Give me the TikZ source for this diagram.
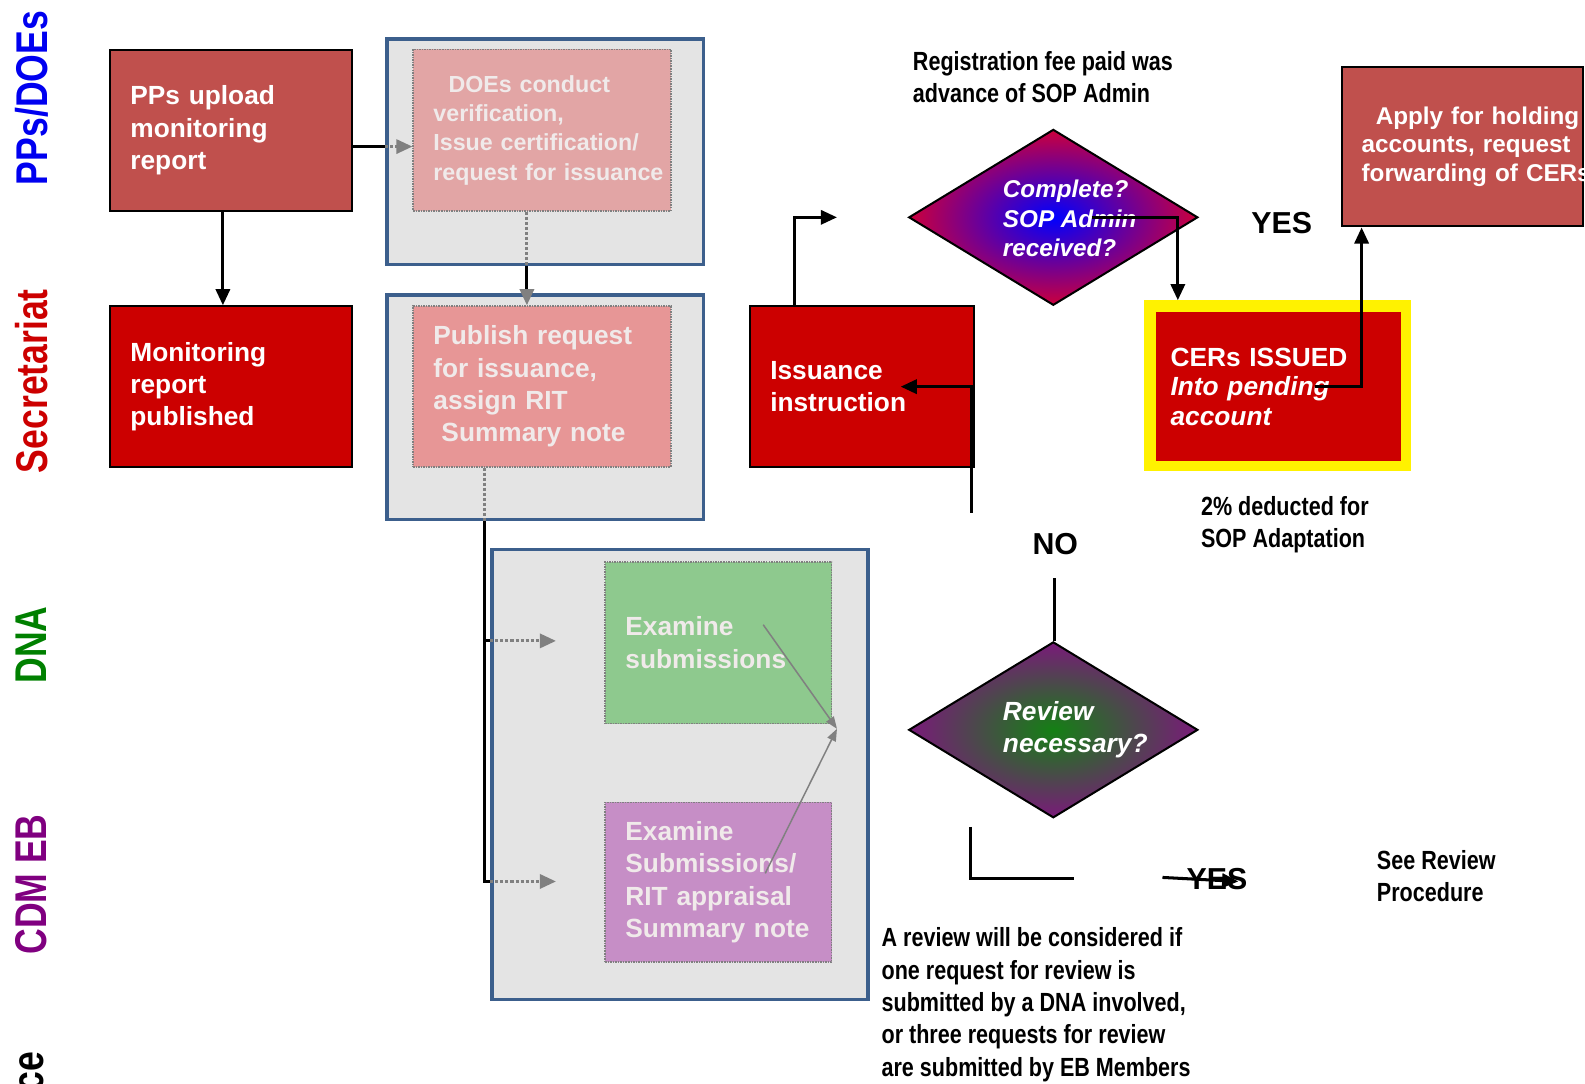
\documentclass[tikz,border=0pt]{standalone}
\usepackage{fontspec}
\setmainfont{Liberation Sans}
\usetikzlibrary{shapes.geometric,arrows.meta}

\definecolor{boxred}{RGB}{192,80,77}
\definecolor{deepred}{RGB}{204,0,0}
\definecolor{framegrey}{RGB}{228,228,228}
\definecolor{frameblue}{RGB}{60,95,140}
\definecolor{fadepink}{RGB}{226,165,165}
\definecolor{fadered}{RGB}{231,150,150}
\definecolor{fadegreen}{RGB}{142,201,142}
\definecolor{fadepurple}{RGB}{198,142,198}
\definecolor{fadetext}{RGB}{240,234,234}
\definecolor{laneblue}{RGB}{0,0,240}
\definecolor{lanered}{RGB}{204,0,0}
\definecolor{lanegreen}{RGB}{0,128,0}
\definecolor{lanepurple}{RGB}{128,0,128}

\tikzset{
  lane/.style={rotate=90, xscale=0.8, inner sep=0pt, font=\bfseries\fontsize{44}{44}\selectfont},
  flowbox/.style={draw=black, line width=2pt, anchor=north west, align=left, inner xsep=20pt,
    text=white, font=\bfseries\fontsize{26}{32}\selectfont},
  framebox/.style={draw=frameblue, fill=framegrey, line width=3.5pt, anchor=north west},
  fadebox/.style={draw=gray, densely dotted, line width=1.5pt, anchor=north west, align=left,
    inner xsep=20pt, text=fadetext, font=\bfseries\fontsize{26}{32}\selectfont},
  decision/.style={diamond, draw=black, line width=2pt, minimum width=286pt, minimum height=174pt, inner sep=0pt},
  asktext/.style={anchor=west, align=left, inner sep=0pt, text=white, font=\bfseries\itshape\fontsize{24}{29}\selectfont},
  note/.style={anchor=west, align=left, inner sep=0pt, xscale=0.82, font=\bfseries\fontsize{26}{32}\selectfont},
  answer/.style={inner sep=0pt, font=\bfseries\fontsize{30}{30}\selectfont},
  flow/.style={draw=black, line width=3pt},
  fadeflow/.style={draw=gray, densely dashed, line width=3pt},
  tip/.style={-{Triangle[length=16pt,width=14pt]}},
  fadetip/.style={-{Triangle[length=16pt,width=14pt,fill=gray]}}
}

\begin{document}
\begin{tikzpicture}[x=1pt, y=-1pt]
  \useasboundingbox (0,0) rectangle (1568,1072);

  % Swimlanes
  \node[lane, text=laneblue] (lanePP) at (31,97) {PPs/DOEs};
  \node[lane, text=lanered] (laneSec) at (31,377) {Secretariat};
  \node[lane, text=lanegreen] (laneDNA) at (31,638) {DNA};
  \node[lane, text=lanepurple] (laneEB) at (31,875) {CDM EB};
  \node[lane, text=black, anchor=east] (laneLast) at (31,1040) {ce};

  % Frames of the greyed steps
  \node[framebox, minimum width=313pt, minimum height=223pt] (frameDoe) at (381,37) {};
  \node[framebox, minimum width=313pt, minimum height=222pt] (framePub) at (381,290) {};
  \node[framebox, minimum width=372pt, minimum height=445pt] (frameExam) at (485,542) {};

  % Steps
  \node[flowbox, fill=boxred, minimum width=239pt, minimum height=160pt, text width=199pt] (upload) at (108,48)
    {PPs upload\\monitoring\\report};
  \node[flowbox, fill=deepred, minimum width=239pt, minimum height=159pt, text width=199pt] (published) at (108,302)
    {Monitoring\\report\\published};
  \node[fadebox, fill=fadepink, minimum width=255pt, minimum height=160pt, text width=255pt, inner xsep=0pt,
    font=\bfseries\fontsize{23}{29}\selectfont] (doeStep) at (408,48)
    {\hspace*{35pt}DOEs conduct\\\hspace*{20pt}verification,\\\hspace*{20pt}Issue certification/\\\hspace*{20pt}\mbox{request for issuance}};
  \node[fadebox, fill=fadered, minimum width=255pt, minimum height=159pt, text width=215pt] (pubStep) at (408,302)
    {Publish request\\for issuance,\\assign RIT\\\hspace*{8pt}Summary note};
  \node[fadebox, fill=fadegreen, minimum width=224pt, minimum height=160pt, text width=184pt] (dnaStep) at (598,555)
    {Examine\\submissions};
  \node[fadebox, fill=fadepurple, minimum width=224pt, minimum height=158pt, text width=184pt] (ebStep) at (598,793)
    {Examine\\Submissions/\\RIT appraisal\\Summary note};
  \node[flowbox, fill=deepred, minimum width=222pt, minimum height=159pt, text width=182pt] (issue) at (741,302)
    {Issuance\\instruction};
  \node[draw=none, fill=yellow, minimum width=264pt, minimum height=169pt, anchor=north west] (cersFrame) at (1132,297) {};
  \node[flowbox, draw=none, fill=deepred, minimum width=242pt, minimum height=147pt, text width=214pt,
    inner xsep=14pt, font=\bfseries\fontsize{26}{29}\selectfont] (cers) at (1143,308)
    {CERs ISSUED\\\itshape Into pending\\\itshape account};
  \node[flowbox, fill=boxred, minimum width=238pt, minimum height=158pt, text width=200pt, inner xsep=19pt,
    font=\bfseries\fontsize{24}{28}\selectfont] (apply) at (1327,65)
    {\mbox{\hspace*{14pt}Apply for holding}\\\mbox{accounts, request}\\\mbox{forwarding of CERs}};

  % Decisions
  \node[decision, inner color=blue, outer color={rgb,255:red,204;green,0;blue,60}] (complete) at (1042,215) {};
  \node[asktext] (completeText) at (992,216) {Complete?\\SOP Admin\\received?};
  \node[decision, inner color={rgb,255:red,20;green,128;blue,20}, outer color={rgb,255:red,122;green,26;blue,122}] (review) at (1042,722) {};
  \node[asktext, font=\bfseries\itshape\fontsize{26}{31}\selectfont] (reviewText) at (992,722) {Review\\necessary?};

  % Notes
  \node[note] (regFee) at (903,76) {Registration fee paid was\\advance of SOP Admin};
  \node[note] (sopCut) at (1188,519) {2\% deducted for\\SOP Adaptation};
  \node[note] (seeReview) at (1362,867) {See Review\\Procedure};
  \node[note] (reviewRule) at (872,994) {A review will be considered if\\one request for review is\\submitted by a DNA involved,\\or three requests for review\\are submitted by EB Members};
  \node[answer] (yesTop) at (1268,221) {YES};
  \node[answer] (no) at (1044,538) {NO};
  \node[answer] (yesLow) at (1204,870) {YES};

  % Free ends
  \coordinate (ppsOut) at ([yshift=-16pt]upload.east);
  \coordinate (doeOut) at ([xshift=-15pt]doeStep.south);
  \coordinate (pubOut) at ([xshift=-57pt]pubStep.south);
  \coordinate (toDna) at (550,634);
  \coordinate (toEb) at (550,872);
  \coordinate (dnaOut) at (755,618);
  \coordinate (ebOut) at (757,864);
  \coordinate (merge) at (828,721);
  \coordinate (toComplete) at (828,215);
  \coordinate (noUp) at (961,507);
  \coordinate (noDown) at (1043,572);
  \coordinate (yesCorner) at (960,818);
  \coordinate (yesEnd) at (1062,869);
  \coordinate (yesFrom) at (1150,868);

  % Connectors
  \draw[flow] (ppsOut) -- (ppsOut -| frameDoe.west);
  \draw[fadeflow, fadetip] (ppsOut -| frameDoe.west) -- (ppsOut -| doeStep.west);
  \draw[flow, tip] ([xshift=-8pt]upload.south) -- ([xshift=-8pt]published.north);
  \draw[fadeflow] (doeOut) -- (doeOut |- frameDoe.south);
  \draw[flow] (doeOut |- frameDoe.south) -- (doeOut |- framePub.north);
  \draw[fadeflow, fadetip] (doeOut |- framePub.north) -- (doeOut |- pubStep.north);
  \draw[fadeflow] (pubOut) -- (pubOut |- framePub.south);
  \draw[flow] (pubOut |- framePub.south) |- (toEb -| frameExam.west);
  \draw[flow] (pubOut |- toDna) -- (toDna -| frameExam.west);
  \draw[fadeflow, fadetip] (toDna -| frameExam.west) -- (toDna);
  \draw[fadeflow, fadetip] (toEb -| frameExam.west) -- (toEb);
  \draw[draw=gray, line width=1.5pt, -{Triangle[length=12pt,width=9pt,fill=gray]}] (dnaOut) -- (merge);
  \draw[draw=gray, line width=1.5pt, -{Triangle[length=12pt,width=9pt,fill=gray]}] (ebOut) -- (merge);
  \draw[flow, tip] ([xshift=-67pt]issue.north) |- (toComplete);
  \draw[flow, tip] ([xshift=38pt]complete.center) -| ([xshift=-99pt]cersFrame.north);
  \draw[flow, tip] ([xshift=36pt]cers.center) -| ([xshift=20pt]apply.south west);
  \draw[flow, tip] (noUp) |- ([xshift=38pt]issue.center);
  \draw[flow] (noDown) -- (noDown |- review.north);
  \draw[flow] (yesCorner) |- (yesEnd);
  \draw[flow, tip] (yesFrom) -- ([xshift=21pt,yshift=-2pt]yesLow.center);
\end{tikzpicture}
\end{document}
